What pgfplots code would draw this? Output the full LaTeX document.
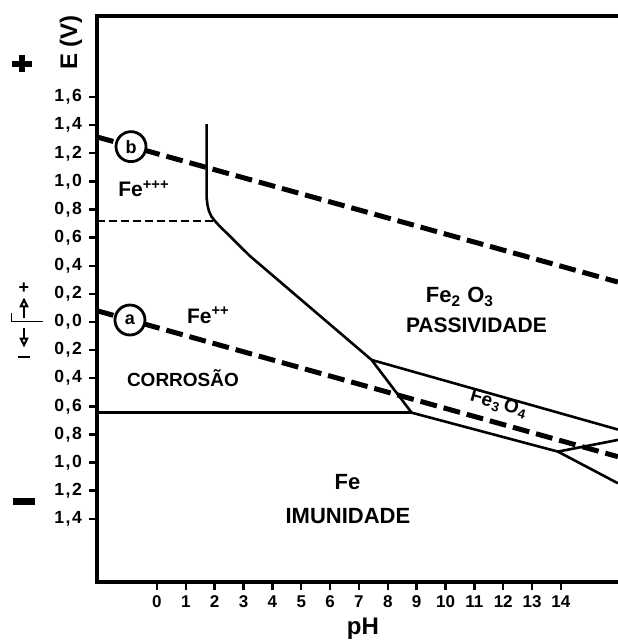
\documentclass[border=0pt]{standalone}
\usepackage{fontspec}
\setmainfont{Liberation Sans}
\usepackage{pgfplots}
\pgfplotsset{compat=1.18}
\usetikzlibrary{arrows.meta}
\newcommand{\dc}[2]{#1\kern.8pt,\kern.8pt#2}
\begin{document}
\begin{tikzpicture}
\begin{axis}[
  scale only axis, width=260.5pt, height=283pt,
  xmin=-2.079, xmax=15.974, ymin=-1.849, ymax=2.176,
  axis line style={draw=none},
  clip=false, no marks,
  xtick={0,1,2,3,4,5,6,7,8,9,10,11,12,13,14},
  xticklabels={0,1,2,3,4,5,6,7,8,9,10,11,12,13,14},
  ytick={-1.4,-1.2,-1.0,-0.8,-0.6,-0.4,-0.2,0,0.2,0.4,0.6,0.8,1.0,1.2,1.4,1.6},
  yticklabels={{\dc14},{\dc12},{\dc10},{\dc08},{\dc06},{\dc04},{\dc02},{\dc00},{\dc02},{\dc04},{\dc06},{\dc08},{\dc10},{\dc12},{\dc14},{\dc16}},
  tick align=outside, xtick pos=bottom, ytick pos=left,
  major tick length=4pt,
  tick style={black, line width=1.2pt},
  xticklabel style={font=\bfseries\fontsize{8.5}{9}\selectfont, yshift=0.5pt},
  yticklabel style={font=\bfseries\fontsize{8.8}{9}\selectfont},
]
% frame (no right edge: the reference is cut there)
\draw[line width=1.6pt, line join=miter] (rel axis cs:1,1) -- (rel axis cs:0,1) -- (rel axis cs:0,0) -- (rel axis cs:1,0);

% Fe+++ / Fe++ boundary (thin dashed)
\addplot[black, line width=0.8pt, dash pattern=on 4pt off 2pt] coordinates {(-2.079,0.718) (2.0,0.718)};
% Fe ions / Fe2O3 boundary
\addplot[black, line width=1.3pt, line join=round] coordinates {
(1.722,1.408) (1.722,0.882) (1.750,0.832) (1.802,0.789) (1.888,0.750) (2.010,0.718)
(2.183,0.679) (2.415,0.633) (2.762,0.562) (3.222,0.469) (7.439,-0.270) (8.825,-0.645)};
% Fe / Fe++ boundary
\addplot[black, line width=1.3pt] coordinates {(-2.079,-0.645) (8.825,-0.645)};
% Fe3O4 upper boundary
\addplot[black, line width=1.3pt] coordinates {(7.439,-0.270) (15.974,-0.765)};
% Fe3O4 lower boundary
\addplot[black, line width=1.3pt, line join=round] coordinates {(8.825,-0.645) (13.895,-0.922) (15.974,-0.839)};
\addplot[black, line width=1.3pt] coordinates {(13.895,-0.922) (15.974,-1.147)};
% water lines
\addplot[black, line width=2.5pt, dash pattern=on 8.5pt off 3.5pt] coordinates {(-2.079,1.316) (15.974,0.284)};
\addplot[black, line width=2.5pt, dash pattern=on 8.5pt off 3.5pt] coordinates {(-2.079,0.080) (15.974,-0.958)};

\node[circle, draw, line width=1.4pt, fill=white, minimum size=15pt, inner sep=0pt, font=\bfseries\fontsize{9}{9}\selectfont] at (axis cs:-0.90,1.247) {b};
\node[circle, draw, line width=1.4pt, fill=white, minimum size=15pt, inner sep=0pt, font=\bfseries\fontsize{9}{9}\selectfont] at (axis cs:-0.936,0.014) {a};

% region labels
\node[anchor=base west, inner sep=0pt, font=\bfseries\fontsize{10.5}{11}\selectfont] at (axis cs:-1.351,0.889) {Fe\textsuperscript{+++}};
\node[anchor=base west, inner sep=0pt, font=\bfseries\fontsize{10.5}{11}\selectfont] at (axis cs:1.029,-0.009) {Fe\textsuperscript{++}};
\node[anchor=base, inner sep=0pt, font=\bfseries\fontsize{9.5}{10}\selectfont] at (axis cs:0.901,-0.460) {CORROSÃO};
\node[anchor=base, inner sep=0pt, font=\bfseries\fontsize{11}{12}\selectfont] at (axis cs:6.601,-1.195) {Fe};
\node[anchor=base, inner sep=0pt, font=\bfseries\fontsize{11}{12}\selectfont] at (axis cs:6.618,-1.432) {IMUNIDADE};
\node[anchor=base, inner sep=0pt, font=\bfseries\fontsize{11}{12}\selectfont] at (axis cs:10.499,0.135) {Fe\textsubscript{2} O\textsubscript{3}};
\node[anchor=base, inner sep=0pt, font=\bfseries\fontsize{10.5}{11}\selectfont] at (axis cs:11.07,-0.078) {PASSIVIDADE};
\node[rotate=-16, inner sep=0pt, font=\bfseries\fontsize{9.5}{10}\selectfont] at (axis cs:11.85,-0.585) {Fe\kern.5pt\textsubscript{3}\kern1.5pt O\kern.5pt\textsubscript{4}};

% axis titles
\node[rotate=90, inner sep=0pt, font=\bfseries\fontsize{12}{13}\selectfont] at (axis cs:-2.980,1.988) {E (V)};
\node[inner sep=0pt, font=\bfseries\fontsize{12}{13}\selectfont] at (axis cs:7.138,-2.184) {pH};

% left side signs
\draw[line width=3pt] (axis cs:-5.035,1.838) -- (axis cs:-4.342,1.838);
\draw[line width=3pt] (axis cs:-4.688,1.899) -- (axis cs:-4.688,1.778);
\draw[line width=3.2pt] (axis cs:-4.990,-1.278) -- (axis cs:-4.227,-1.278);
\node[inner sep=0pt, font=\bfseries\fontsize{9}{9}\selectfont] at (axis cs:-4.608,0.242) {+};
\draw[line width=1pt, -{Triangle[open,length=5pt,width=4.5pt]}] (axis cs:-4.608,0.028) -- (axis cs:-4.608,0.175);
\draw[line width=0.8pt] (axis cs:-5.035,0.064) -- (axis cs:-5.035,0.002) -- (axis cs:-3.940,0.002);
\draw[line width=1pt, -{Triangle[open,length=5pt,width=4.5pt]}] (axis cs:-4.608,-0.040) -- (axis cs:-4.608,-0.182);
\draw[line width=0.8pt] (axis cs:-4.816,-0.247) -- (axis cs:-4.400,-0.247);

\coordinate (bbA) at (axis cs:-5.440,2.290);
\coordinate (bbB) at (axis cs:15.974,-2.269);
\end{axis}
\pgfresetboundingbox
\path (bbA) rectangle (bbB);
\end{tikzpicture}
\end{document}
